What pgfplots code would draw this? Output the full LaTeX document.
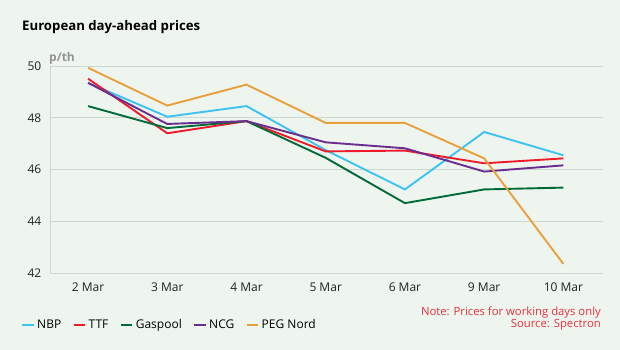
\documentclass[border=0pt]{standalone}
\usepackage{pgfplots}
\pgfplotsset{compat=1.18}
\usepackage{fontspec}
\setmainfont{Open Sans}
\definecolor{bg}{HTML}{EDF5EE}
\definecolor{gridc}{HTML}{CDD8D0}
\definecolor{nbp}{HTML}{3DC2F2}
\definecolor{ttf}{HTML}{EE1C2A}
\definecolor{gas}{HTML}{006B38}
\definecolor{ncg}{HTML}{6B2D8F}
\definecolor{peg}{HTML}{E9A03C}
\definecolor{notec}{HTML}{E8303C}
\definecolor{tickc}{HTML}{222222}
\begin{document}
\begin{tikzpicture}[x=1pt,y=1pt]
\fill[bg] (0,0) rectangle (620,350);
\node[anchor=west,inner sep=0pt,font=\bfseries\fontsize{13.2}{16}\selectfont] at (22,323) {European day-ahead prices};
\node[anchor=west,inner sep=0pt,text=gray!85,font=\bfseries\fontsize{12}{14}\selectfont] at (49,292) {p/th};
\node[anchor=east,inner sep=0pt,text=notec,font=\fontsize{11.3}{14}\selectfont] at (601,37) {Note: Prices for working days only};
\node[anchor=east,inner sep=0pt,text=notec,font=\fontsize{11.3}{14}\selectfont] at (601,25) {Source: Spectron};
\begin{axis}[
  at={(50pt,77pt)}, anchor=south west,
  scale only axis, width=553pt, height=207pt,
  xmin=-0.48, xmax=6.5, ymin=42, ymax=50,
  xtick={0,...,6},
  xticklabels={2 Mar,3 Mar,4 Mar,5 Mar,6 Mar,9 Mar,10 Mar},
  ytick={42,44,46,48,50},
  ymajorgrids,
  grid style={gridc, line width=0.8pt},
  axis x line=bottom, axis y line=left,
  axis line style={gridc, line width=0.8pt, -},
  tick style={draw=none},
  ticklabel style={font=\fontsize{12}{14}\selectfont, text=tickc},
  xticklabel style={yshift=-4pt},
  yticklabel style={xshift=-3pt},
  /pgf/number format/assume math mode=true,
  every axis plot/.append style={line width=1.9pt},
  legend columns=5,
  legend style={at={(-0.0576,-0.251)}, anchor=west, draw=none, fill=none,
    font=\fontsize{12}{14}\selectfont,
    /tikz/every even column/.append style={column sep=9.5pt},
    /tikz/every odd column/.append style={column sep=0.5pt}},
  legend image code/.code={\draw[#1,line width=1.9pt] (0pt,0pt) -- (11.5pt,0pt);},
]
\addplot[nbp] coordinates {(0,49.35) (1,48.04) (2,48.45) (3,46.75) (4,45.23) (5,47.45) (6,46.55)};
\addplot[ttf] coordinates {(0,49.51) (1,47.40) (2,47.87) (3,46.70) (4,46.73) (5,46.24) (6,46.43)};
\addplot[gas] coordinates {(0,48.45) (1,47.60) (2,47.87) (3,46.45) (4,44.70) (5,45.23) (6,45.30)};
\addplot[ncg] coordinates {(0,49.35) (1,47.76) (2,47.87) (3,47.05) (4,46.82) (5,45.92) (6,46.16)};
\addplot[peg] coordinates {(0,49.93) (1,48.47) (2,49.28) (3,47.80) (4,47.80) (5,46.43) (6,42.35)};
\legend{NBP,TTF,Gaspool,NCG,PEG Nord}
\end{axis}
\end{tikzpicture}
\end{document}
